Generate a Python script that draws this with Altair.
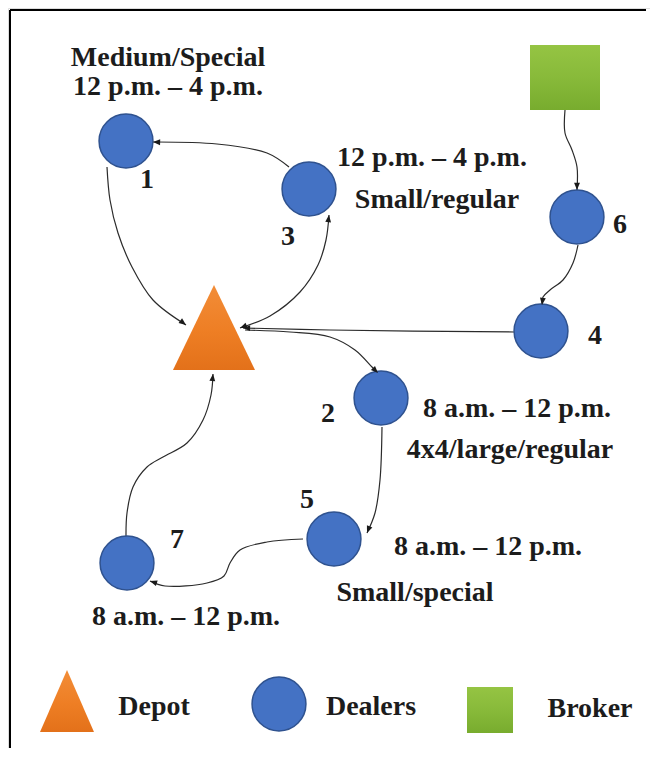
import altair as alt
import pandas as pd
import numpy as np

# ---- nodes (image pixel coordinates) ----
dealer_ids = ["1", "2", "3", "4", "5", "6", "7"]
dealer_x = [126, 381, 309, 541, 334, 577, 127]
dealer_y = [141, 398, 189, 331, 539, 217, 563]

depot_x, depot_y = [214], [327.5]
broker_box = [530, 600, 45, 110]  # x1, x2, y1, y2

# ---- edges: waypoints ----
edges = {
    "3-1": [(289, 167), (267, 153), (217, 144), (153, 142)],
    "1-D": [(107, 167), (110, 200), (118, 233), (132, 267), (153, 300), (186, 325)],
    "D-3": [(240, 328), (270, 316), (300, 292), (318, 265), (326, 240), (329, 215)],
    "4-D": [(514, 332), (330, 330), (243, 328)],
    "D-2": [(245, 330), (290, 332), (330, 337), (355, 350), (372, 367), (378, 373)],
    "B-6": [(565, 110), (565, 133), (572, 150), (577, 167), (577, 190)],
    "6-4": [(578, 245), (573, 263), (563, 280), (550, 290), (543, 297), (542, 305)],
    "2-5": [(382, 427), (380, 480), (375, 513), (367, 533)],
    "5-7": [(303, 539), (267, 542), (240, 550), (230, 563), (224, 576), (207, 583), (165, 586), (150, 581)],
    "7-D": [(126, 537), (127, 513), (133, 487), (147, 467), (163, 457), (187, 443), (203, 420), (211, 395), (213, 374)],
}
both_ends = ["D-3"]

# ---- labels ----
label_text = ["Medium/Special", "12 p.m. \u2013 4 p.m.", "12 p.m. \u2013 4 p.m.", "Small/regular",
              "1", "3", "6", "4", "2", "8 a.m. \u2013 12 p.m.", "4x4/large/regular",
              "5", "8 a.m. \u2013 12 p.m.", "Small/special", "7", "8 a.m. \u2013 12 p.m.",
              "Depot", "Dealers", "Broker"]
label_x = [168, 168, 432, 437, 147, 288, 620, 595, 328, 517, 510, 307, 488, 415, 177, 186, 154, 371, 590]
label_y = [66, 95, 166, 208, 188, 245, 233, 344, 422, 417, 458, 508, 555, 601, 548, 625, 715, 715, 717]

# legend symbols
leg_tri = (67, 701)
leg_circle = (279, 704)
leg_square = [467, 513, 687, 733]

# ---- build tables ----
rows = []
for e, pts in edges.items():
    for i, (x, y) in enumerate(pts):
        rows.append({"e": e, "i": i, "x": x, "y": y})
edge_df = pd.DataFrame(rows)

arr = []
def ang(p_from, p_to):
    dx = p_to[0] - p_from[0]
    dy = p_to[1] - p_from[1]
    return float(np.degrees(np.arctan2(dx, -dy)) % 360)

for e, pts in edges.items():
    arr.append({"x": pts[-1][0], "y": pts[-1][1], "a": ang(pts[-2], pts[-1])})
    if e in both_ends:
        arr.append({"x": pts[0][0], "y": pts[0][1], "a": ang(pts[1], pts[0])})
arrow_df = pd.DataFrame(arr)

dealer_df = pd.DataFrame({"id": dealer_ids + ["legend"],
                          "x": dealer_x + [leg_circle[0]],
                          "y": dealer_y + [leg_circle[1]]})
label_df = pd.DataFrame({"t": label_text, "x": label_x, "y": label_y})
rect_df = pd.DataFrame({"x": [broker_box[0], leg_square[0]], "x2": [broker_box[1], leg_square[1]],
                        "y": [broker_box[2], leg_square[2]], "y2": [broker_box[3], leg_square[3]]})

W, H = 642, 740
xs = alt.Scale(domain=[8, 8 + W], range=[0, W], nice=False, zero=False)
ys = alt.Scale(domain=[8, 8 + H], range=[0, H], nice=False, zero=False)
X = lambda f="x": alt.X(f"{f}:Q", scale=xs, axis=None)
Y = lambda f="y": alt.Y(f"{f}:Q", scale=ys, axis=None)

orange = alt.LinearGradient(gradient="linear", x1=0, x2=0, y1=0, y2=1,
                            stops=[alt.GradientStop(color="#F28D38", offset=0),
                                   alt.GradientStop(color="#EE7E24", offset=0.55),
                                   alt.GradientStop(color="#E3711A", offset=1)])
green = alt.LinearGradient(gradient="linear", x1=0, x2=0, y1=0, y2=1,
                           stops=[alt.GradientStop(color="#95C443", offset=0),
                                  alt.GradientStop(color="#88BA3A", offset=0.5),
                                  alt.GradientStop(color="#78AC2E", offset=1)])

top_df = pd.DataFrame({"x": [10], "x2": [646], "y": [10]})
left_df = pd.DataFrame({"x": [10], "y": [10], "y2": [8 + H]})
frame_top = alt.Chart(top_df).mark_rule(color="#000000", strokeWidth=2).encode(
    x=X(), x2="x2:Q", y=Y())
frame_left = alt.Chart(left_df).mark_rule(color="#000000", strokeWidth=2).encode(
    x=X(), y=Y(), y2="y2:Q")

lines = alt.Chart(edge_df).mark_line(interpolate="catmull-rom", color="#2b2b2b", strokeWidth=1.2).encode(
    x=X(), y=Y(), detail="e:N", order="i:Q")

arrows = alt.Chart(arrow_df).mark_point(shape="M0,0L-0.9,2.2L0.9,2.2Z", filled=True, size=42,
                                        color="#1a1a1a", opacity=1, strokeWidth=0).encode(
    x=X(), y=Y(), angle=alt.Angle("a:Q", scale=None))

circles = alt.Chart(dealer_df).mark_point(shape="circle", filled=False, size=2900, fill="#4472C4",
                                          stroke="#2F528F", strokeWidth=1.5, opacity=1, fillOpacity=1).encode(
    x=X(), y=Y())

depot = alt.Chart(pd.DataFrame({"x": depot_x, "y": depot_y})).mark_point(
    shape="M0,-1L0.965,1L-0.965,1Z", size=85 * 85, filled=False, fill=orange, fillOpacity=1,
    opacity=1, strokeWidth=0).encode(x=X(), y=Y())

leg_depot = alt.Chart(pd.DataFrame({"x": [leg_tri[0]], "y": [leg_tri[1]]})).mark_point(
    shape="M0,-1L0.87,1L-0.87,1Z", size=62 * 62, filled=False, fill=orange, fillOpacity=1,
    opacity=1, strokeWidth=0).encode(x=X(), y=Y())

rects = alt.Chart(rect_df).mark_rect(fill=green).encode(x=X(), x2="x2:Q", y=Y(), y2="y2:Q")

labels = alt.Chart(label_df).mark_text(font="Liberation Serif", fontWeight="bold", fontSize=28,
                                       baseline="alphabetic", align="center", color="#1c1c1c").encode(
    x=X(), y=Y(), text="t:N")

chart = alt.layer(frame_top, frame_left, lines, depot, leg_depot, rects, circles, arrows, labels).properties(
    width=W, height=H, padding=0, autosize="none"
).configure_view(strokeWidth=0, strokeOpacity=0, fill="#ffffff").configure(background="#ffffff")

chart.save("out.html", embed_options={"renderer": "svg", "actions": False})
